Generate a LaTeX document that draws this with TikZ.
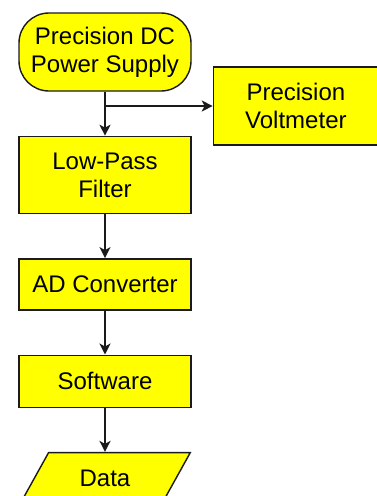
\documentclass[tikz,border=0pt]{standalone}
\usepackage{fontspec}
\setmainfont{Liberation Sans}
\usepackage{xcolor}
\usepackage{tikz}
\usetikzlibrary{arrows.meta,positioning,shapes.geometric,calc}
\definecolor{blockfill}{HTML}{FFFF00}
\definecolor{edge}{HTML}{1A1A1A}
\tikzset{
  block/.style ={draw=edge,line width=1.4pt,fill=blockfill,minimum width=172pt,
                 inner sep=2pt,align=center,font=\fontsize{24}{28}\selectfont},
  source/.style={block,rounded corners=30pt},
  iobox/.style ={block,trapezium,trapezium left angle=56,trapezium right angle=124,
                 trapezium stretches=true},
  flow/.style  ={-{Stealth[length=11pt,width=11pt,inset=3pt]},line width=1.8pt,draw=edge}
}
\begin{document}
\begin{tikzpicture}[node distance=44pt]
        \useasboundingbox (0,0) rectangle (377pt,-496pt);
        \node[source,minimum height=78pt] (psu) at (105pt,-52pt) {Precision DC\\Power Supply};
        \node[block,minimum width=165pt,minimum height=78pt,anchor=west] (volt)
             at ($(psu.east)+(21pt,-54pt)$) {Precision\\Voltmeter};
        \node[block,minimum height=77pt,below=of psu] (filter) {Low-Pass\\Filter};
        \node[block,minimum height=51pt,below=of filter] (adc) {AD Converter};
        \node[block,minimum height=52pt,below=of adc] (soft) {Software};
        \node[iobox,minimum height=52pt,below=of soft] (data) {Data};
        \coordinate (split) at (psu.south |- volt.west);
        \draw[flow] (psu) -- (filter);
        \draw[flow] (split) -- (volt.west);
        \draw[flow] (filter) -- (adc);
        \draw[flow] (adc) -- (soft);
        \draw[flow] (soft) -- (data);
      \end{tikzpicture}
\end{document}
